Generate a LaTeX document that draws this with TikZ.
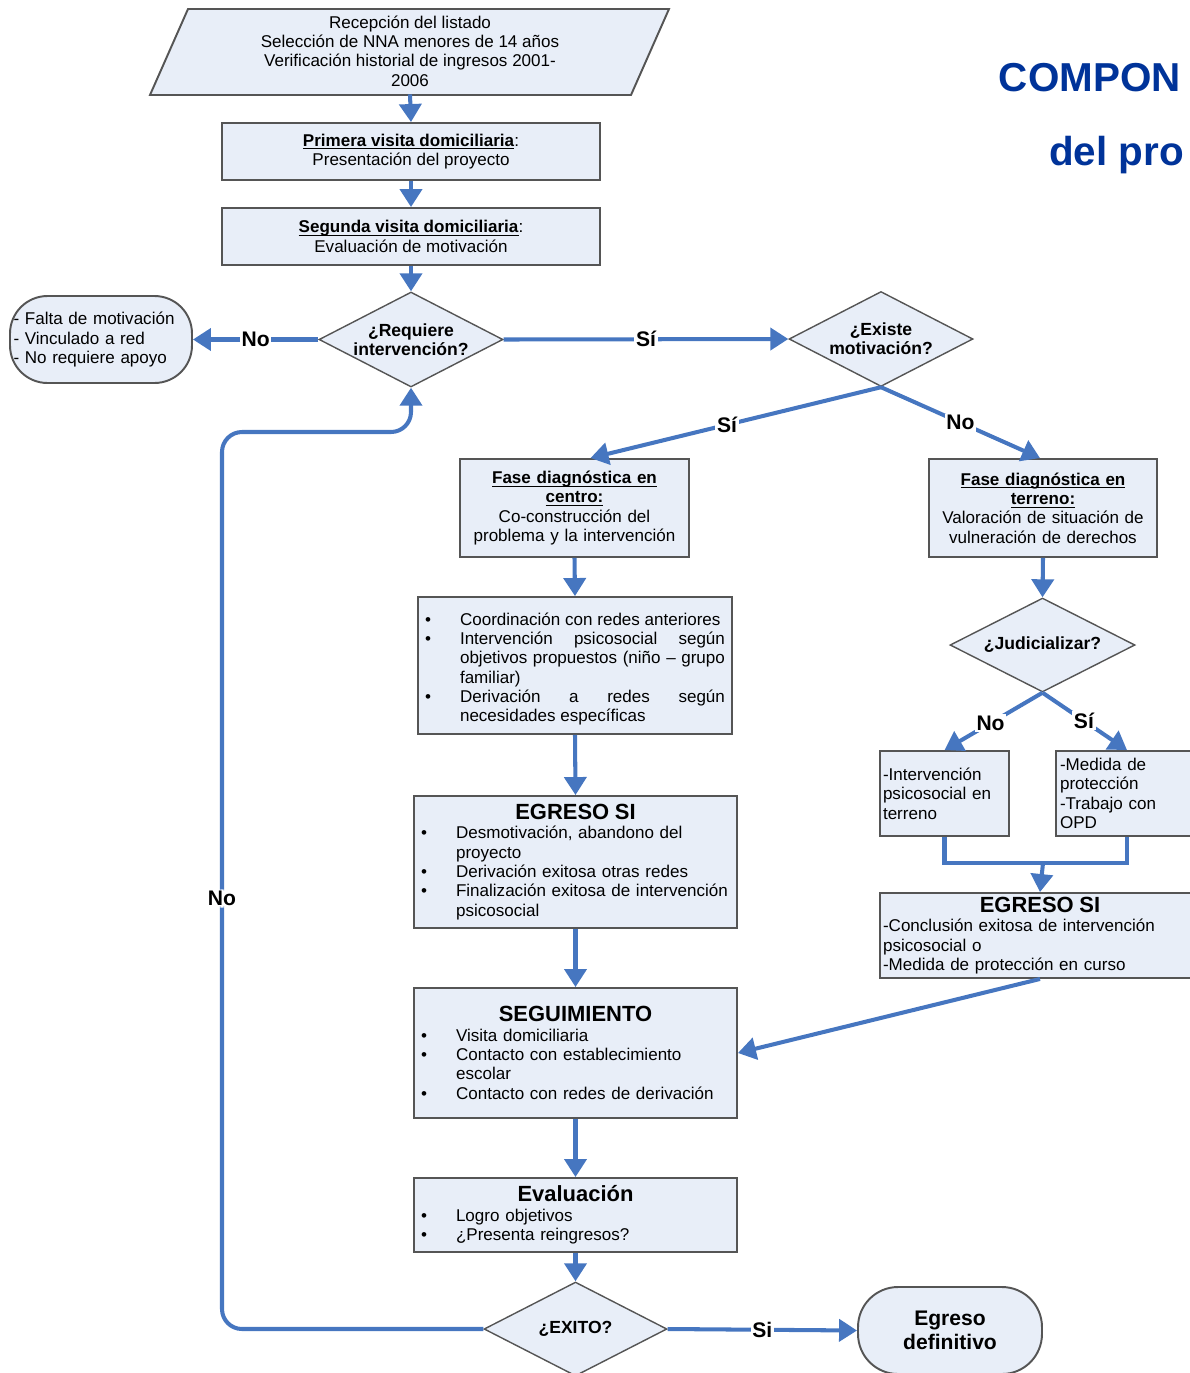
\documentclass[tikz,border=0pt]{standalone}
\usepackage{fontspec}
\setmainfont{Liberation Sans}
\usepackage{tikz}
\usetikzlibrary{arrows.meta,shapes.geometric,calc}

\definecolor{azul}{RGB}{70,118,192}
\definecolor{relleno}{RGB}{232,238,248}
\definecolor{borde}{RGB}{85,85,85}
\definecolor{titazul}{RGB}{0,51,153}

\newcommand{\cuerpo}{\fontsize{9.7}{11}\selectfont}
\newcommand{\subraya}[1]{\underline{\smash{#1}}\vphantom{#1}}
\newcommand{\cabeza}[1]{{\centering\fontsize{12.5}{15}\selectfont\bfseries #1\par}}
\newcommand{\vineta}[1]{\par\hangindent=0.7cm\hangafter=1\noindent\makebox[0.7cm][l]{\textbullet}#1}

\tikzset{
	caja/.style={rectangle, draw=borde, fill=relleno, line width=1.1pt, inner sep=0pt, font=\cuerpo},
	decision/.style={diamond, draw=borde, fill=relleno, line width=0.8pt, inner sep=0pt, aspect=1.94, align=center, font=\fontsize{10}{11}\selectfont\bfseries},
	flecha/.style={draw=azul, line width=2.3pt, -{Triangle[length=0.36cm,width=0.44cm]}},
	linea/.style={draw=azul, line width=2.3pt},
	etiqueta/.style={fill=white, inner sep=1pt, text=black, font=\fontsize{12}{12}\selectfont\bfseries},
}

\begin{document}
\begin{tikzpicture}[x=0.02cm,y=-0.02cm]
		\useasboundingbox (0,0) rectangle (1190,1373);
		
		\node[anchor=base east, text=titazul, font=\fontsize{23}{23}\selectfont\bfseries] (componentes) at (1187,91) {COMPON};
		\node[anchor=base east, text=titazul, font=\fontsize{23}{23}\selectfont\bfseries] (delpro) at (1190,165) {del pro};
		
		\draw[line width=1.1pt, draw=borde, fill=relleno] (188,9) -- (669,9) -- (631,95) -- (150,95) -- cycle;
		\node[align=center, font=\cuerpo, minimum height=1.72cm, inner sep=0pt] (recepcion) at (410,51) {Recepción del listado\\Selección de NNA menores de 14 años\\Verificación historial de ingresos 2001-\\2006};
		
		\node[caja, minimum width=7.56cm, minimum height=1.14cm, align=center] (primera) at (411,151.5) {\subraya{\textbf{Primera visita domiciliaria}}:\\Presentación del proyecto};
		\node[caja, minimum width=7.56cm, minimum height=1.14cm, align=center] (segunda) at (411,236.5) {\subraya{\textbf{Segunda visita domiciliaria}}:\\Evaluación de motivación};
		
		\node[decision, minimum width=3.68cm, minimum height=1.9cm] (requiere) at (411,339.5) {¿Requiere\\intervención?};
		\node[caja, rounded corners=0.75cm, minimum width=3.64cm, minimum height=1.74cm, text width=3.5cm, align=left] (falta) at (101,339.5) {- Falta de motivación\\- Vinculado a red\\- No requiere apoyo};
		\node[decision, minimum width=3.68cm, minimum height=1.9cm] (existe) at (881,339) {¿Existe\\motivación?};
		
		\node[caja, minimum width=4.58cm, minimum height=1.96cm, text width=4.4cm, align=center] (centro) at (574.5,508) {\subraya{\textbf{Fase diagnóstica en}}\\\subraya{\textbf{centro:}}\\Co-construcción del\\problema y la intervención};
		\node[caja, minimum width=4.56cm, minimum height=1.96cm, text width=4.4cm, align=center] (terreno) at (1043,508) {\subraya{\textbf{Fase diagnóstica en}}\\\subraya{\textbf{terreno:}}\\Valoración de situación de\\vulneración de derechos};
		
		\node[caja, minimum width=6.28cm, minimum height=2.74cm, text width=6cm, align=justify] (acciones) at (575,665.5) {%
			\vineta{Coordinación con redes anteriores}
			\vineta{Intervención psicosocial según\linebreak objetivos propuestos (niño – grupo\linebreak familiar)}
			\vineta{Derivación a redes según\linebreak necesidades específicas}\par};
		
		\node[caja, minimum width=6.46cm, minimum height=2.64cm, text width=6.18cm, align=left] (egreso) at (575.5,862) {%
			\cabeza{EGRESO SI}
			\vineta{Desmotivación, abandono del\newline proyecto}
			\vineta{Derivación exitosa otras redes}
			\vineta{Finalización exitosa de intervención\newline psicosocial}\par};
		
		\node[caja, minimum width=6.46cm, minimum height=2.6cm, text width=6.18cm, align=left] (seguimiento) at (575.5,1053) {%
			\cabeza{SEGUIMIENTO}
			\vineta{Visita domiciliaria}
			\vineta{Contacto con establecimiento\newline escolar}
			\vineta{Contacto con redes de derivación}\par};
		
		\node[caja, minimum width=6.46cm, minimum height=1.48cm, text width=6.18cm, align=left] (evaluacion) at (575.5,1215) {%
			\cabeza{Evaluación}
			\vineta{Logro objetivos}
			\vineta{¿Presenta reingresos?}\par};
		
		\node[decision, minimum width=3.66cm, minimum height=1.88cm] (exito) at (575.5,1329) {¿EXITO?};
		\node[caja, rounded corners=0.8cm, minimum width=3.68cm, minimum height=1.74cm, align=center, font=\fontsize{12}{13.7}\selectfont\bfseries] (definitivo) at (950,1330.5) {Egreso\\definitivo};
		
		\node[decision, minimum width=3.7cm, minimum height=1.88cm] (judicializar) at (1042.5,645) {¿Judicializar?};
		\node[caja, minimum width=2.58cm, minimum height=1.7cm, text width=2.46cm, align=left] (intervencion) at (944.5,793.5) {-Intervención\\psicosocial en\\terreno};
		\node[caja, minimum width=2.84cm, minimum height=1.7cm, text width=2.68cm, align=left] (medida) at (1127,793.5) {-Medida de\\protección\\-Trabajo con\\OPD};
		\node[caja, minimum width=6.4cm, minimum height=1.7cm, text width=6.28cm, align=left] (egresoterreno) at (1040,935.5) {%
			\cabeza{EGRESO SI}
			-Conclusión exitosa de intervención\newline psicosocial o\newline -Medida de protección en curso\par};
		
		\coordinate (union) at (1043,863);
		\coordinate (retorno) at (222,432);
		
		\draw[flecha] (recepcion.south) -- (primera.north);
		\draw[flecha] (primera.south) -- (segunda.north);
		\draw[flecha] (segunda.south) -- (requiere.north);
		\draw[flecha] (requiere.west) -- node[etiqueta, pos=0.5] (no1) {No} (falta.east);
		\draw[flecha] (requiere.east) -- node[etiqueta, pos=0.5] (si1) {Sí} (existe.west);
		\draw[flecha] (existe.south) -- node[etiqueta, pos=0.53] (si2) {Sí} ([xshift=0.32cm]centro.north);
		\draw[flecha] (existe.south) -- node[etiqueta, pos=0.5] (no2) {No} ([xshift=-0.06cm]terreno.north);
		\draw[flecha] (centro.south) -- (acciones.north);
		\draw[flecha] (acciones.south) -- (egreso.north);
		\draw[flecha] (egreso.south) -- (seguimiento.north);
		\draw[flecha] (seguimiento.south) -- (evaluacion.north);
		\draw[flecha] (evaluacion.south) -- (exito.north);
		\draw[flecha] (exito.east) -- node[etiqueta, pos=0.5] (si3) {Si} (definitivo.west);
		\draw[flecha, rounded corners=0.4cm] (exito.west) -| node[etiqueta, pos=0.74] (no3) {No} (retorno) -| (requiere.south);
		
		\draw[flecha] (terreno.south) -- (judicializar.north);
		\draw[flecha] (judicializar.south) -- node[etiqueta, pos=0.53] (no4) {No} (intervencion.north);
		\draw[flecha] (judicializar.south) -- node[etiqueta, pos=0.49] (si4) {Sí} (medida.north);
		\draw[linea] (intervencion.south) |- (union) -| (medida.south);
		\draw[flecha] (union) -- (egresoterreno.north);
		\draw[flecha] (egresoterreno.south) -- (seguimiento.east);
\end{tikzpicture}
\end{document}
